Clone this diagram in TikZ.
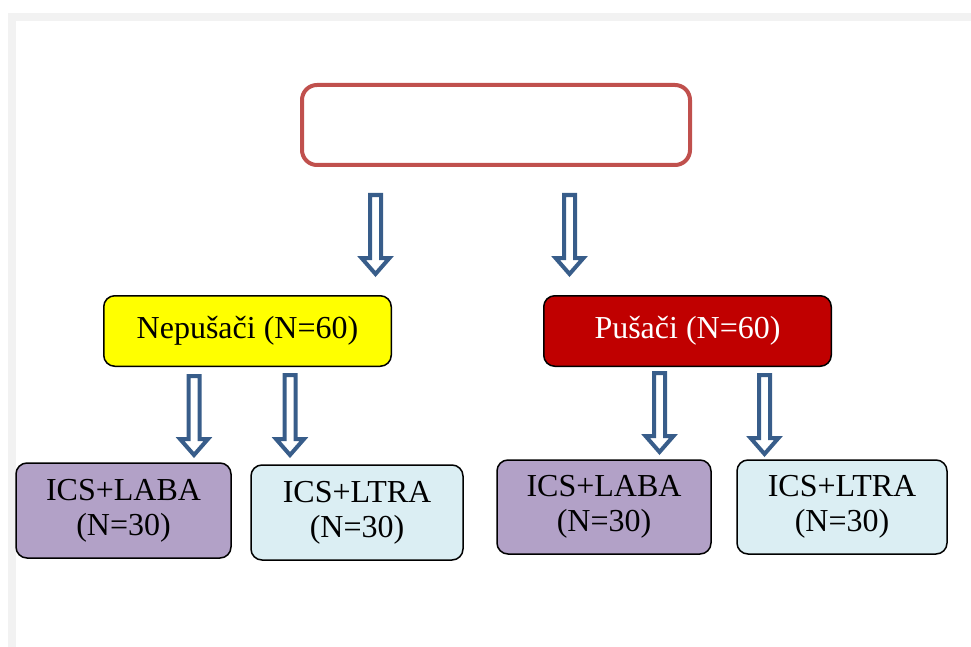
\documentclass[tikz,border=0pt]{standalone}
\usepackage{fontspec}
\setmainfont{Liberation Serif}
\usetikzlibrary{calc}
\definecolor{frameGray}{HTML}{F2F2F2}
\definecolor{topRed}{HTML}{C0504D}
\definecolor{arrowBlue}{HTML}{385D8A}
\definecolor{nsYellow}{HTML}{FFFF00}
\definecolor{sDark}{HTML}{C00000}
\definecolor{labaPurple}{HTML}{B2A1C7}
\definecolor{ltraBlue}{HTML}{DBEEF3}
\tikzset{
  grpbox/.style={draw=black, line width=1.5pt, rounded corners=11pt, inner sep=0pt, outer sep=0pt,
    align=center, font=\fontsize{32}{35}\selectfont},
  hollowarrow/.style={draw=arrowBlue, fill=white, line width=4pt, line join=miter}
}
\newcommand{\hollowarr}[2]{%
  \draw[hollowarrow] let \p1=(#1), \p2=(#2) in
    (\x1-5.5pt,\y1) -- (\x1+5.5pt,\y1) -- (\x1+5.5pt,\y2+16pt) -- (\x1+14pt,\y2+16pt)
    -- (\x1,\y2) -- (\x1-14pt,\y2+16pt) -- (\x1-5.5pt,\y2+16pt) -- cycle;}
\begin{document}
\begin{tikzpicture}[x=1pt,y=-1pt]
\useasboundingbox (0,0) rectangle (971,647);
% frame
\fill[frameGray] (8,13) rectangle (971,21);
\fill[frameGray] (8,13) rectangle (16,647);
% top box
\node[draw=topRed, line width=4pt, rounded corners=15pt, minimum width=388pt, minimum height=80pt, inner sep=0pt] (top) at (496,125) {};
% level 2
\node[grpbox, fill=nsYellow, minimum width=287.5pt, minimum height=70.5pt] (ns) at (247.5,331) {Nepušači (N=60)};
\node[grpbox, fill=sDark, text=white, minimum width=287.5pt, minimum height=70.5pt] (s) at (687.5,331) {Pušači (N=60)};
% level 3
\node[grpbox, fill=labaPurple, minimum width=215pt, minimum height=95pt] (nslaba) at (123.5,510.5) {ICS+LABA\\(N=30)};
\node[grpbox, fill=ltraBlue, minimum width=212pt, minimum height=95pt] (nsltra) at (357,512.5) {ICS+LTRA\\(N=30)};
\node[grpbox, fill=labaPurple, minimum width=214pt, minimum height=94pt] (slaba) at (604,507) {ICS+LABA\\(N=30)};
\node[grpbox, fill=ltraBlue, minimum width=210pt, minimum height=94pt] (sltra) at (842,507) {ICS+LTRA\\(N=30)};
% arrow end points
\coordinate (a1s) at (375.5,195); \coordinate (a1e) at (375.5,274);
\coordinate (a2s) at (569.5,195); \coordinate (a2e) at (569.5,274);
\coordinate (a3s) at (194,376);   \coordinate (a3e) at (194,455);
\coordinate (a4s) at (290,375);   \coordinate (a4e) at (290,455);
\coordinate (a5s) at (659.5,373); \coordinate (a5e) at (659.5,452);
\coordinate (a6s) at (764.5,375); \coordinate (a6e) at (764.5,454);
\hollowarr{a1s}{a1e}
\hollowarr{a2s}{a2e}
\hollowarr{a3s}{a3e}
\hollowarr{a4s}{a4e}
\hollowarr{a5s}{a5e}
\hollowarr{a6s}{a6e}
\end{tikzpicture}
\end{document}
